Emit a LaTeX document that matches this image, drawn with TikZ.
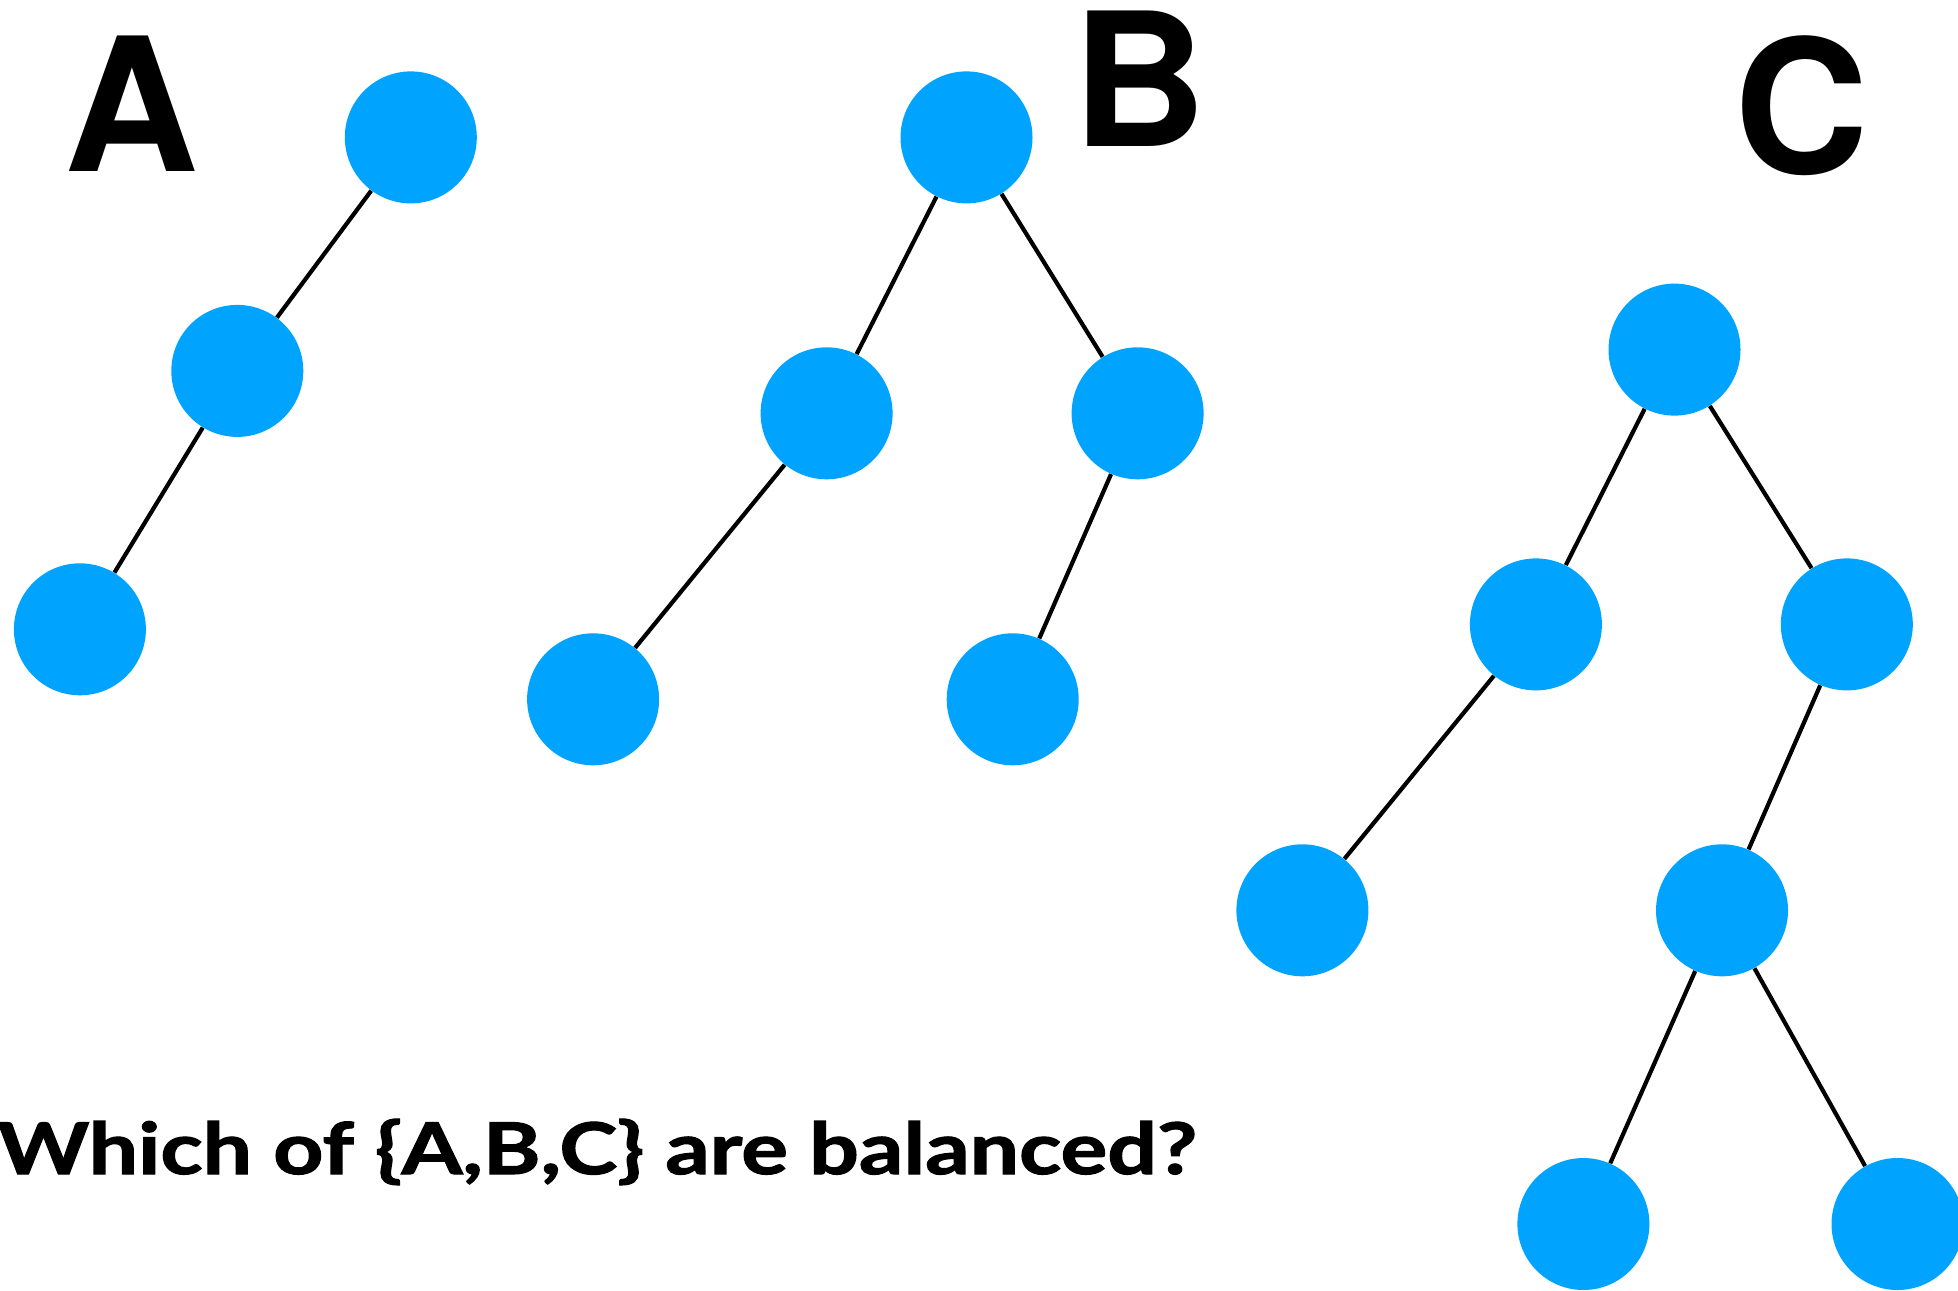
\documentclass[tikz,border=0pt]{standalone}
\usepackage{fontspec}
\usepackage{graphicx}
\newfontfamily\labfont{TeX Gyre Heros}
\newfontfamily\qfont{Lato}[BoldFeatures={FakeBold=1.5}]
\definecolor{nodeblue}{RGB}{0,164,255}
\tikzset{
  treenode/.style={circle, fill=nodeblue, draw=none, minimum size=66pt, inner sep=0pt},
  treeedge/.style={line width=2.1pt, black},
  treelabel/.style={inner sep=0pt, font=\labfont\bfseries\fontsize{93}{93}\selectfont}
}
\begin{document}
\begin{tikzpicture}[x=0.5pt, y=-0.5pt]
\useasboundingbox (0,0) rectangle (1958,1290);
% Tree A
\node[treenode] (a1) at (410.8,137.4) {};
\node[treenode] (a2) at (237.3,370.9) {};
\node[treenode] (a3) at (79.9,629.3) {};
% Tree B
\node[treenode] (b1) at (966.5,137.4) {};
\node[treenode] (b2) at (826.6,413.3) {};
\node[treenode] (b3) at (1137.6,413.3) {};
\node[treenode] (b4) at (593.1,699.3) {};
\node[treenode] (b5) at (1012.7,699.3) {};
% Tree C
\node[treenode] (c1) at (1674.5,349.6) {};
\node[treenode] (c2) at (1535.9,624.4) {};
\node[treenode] (c3) at (1846.8,624.4) {};
\node[treenode] (c4) at (1302.4,910.3) {};
\node[treenode] (c5) at (1722,910.3) {};
\node[treenode] (c6) at (1583.4,1224) {};
\node[treenode] (c7) at (1897.5,1224) {};
% Edges
\draw[treeedge] (a1) -- (a2);
\draw[treeedge] (a2) -- (a3);
\draw[treeedge] (b1) -- (b2);
\draw[treeedge] (b1) -- (b3);
\draw[treeedge] (b2) -- (b4);
\draw[treeedge] (b3) -- (b5);
\draw[treeedge] (c1) -- (c2);
\draw[treeedge] (c1) -- (c3);
\draw[treeedge] (c2) -- (c4);
\draw[treeedge] (c3) -- (c5);
\draw[treeedge] (c5) -- (c6);
\draw[treeedge] (c5) -- (c7);
% Labels
\node[treelabel] (la) at (131.5,104) {A};
\node[treelabel] (lb) at (1140,79) {B};
\node[treelabel] (lc) at (1801.5,105.5) {C};
% Question
\node[inner sep=0pt, anchor=base west] (q) at (-3,1174)
  {\resizebox{599.5pt}{26.5pt}{\qfont\bfseries\vphantom{h}\smash{Which of \{A,B,C\} are balanced?}}};
\end{tikzpicture}
\end{document}
